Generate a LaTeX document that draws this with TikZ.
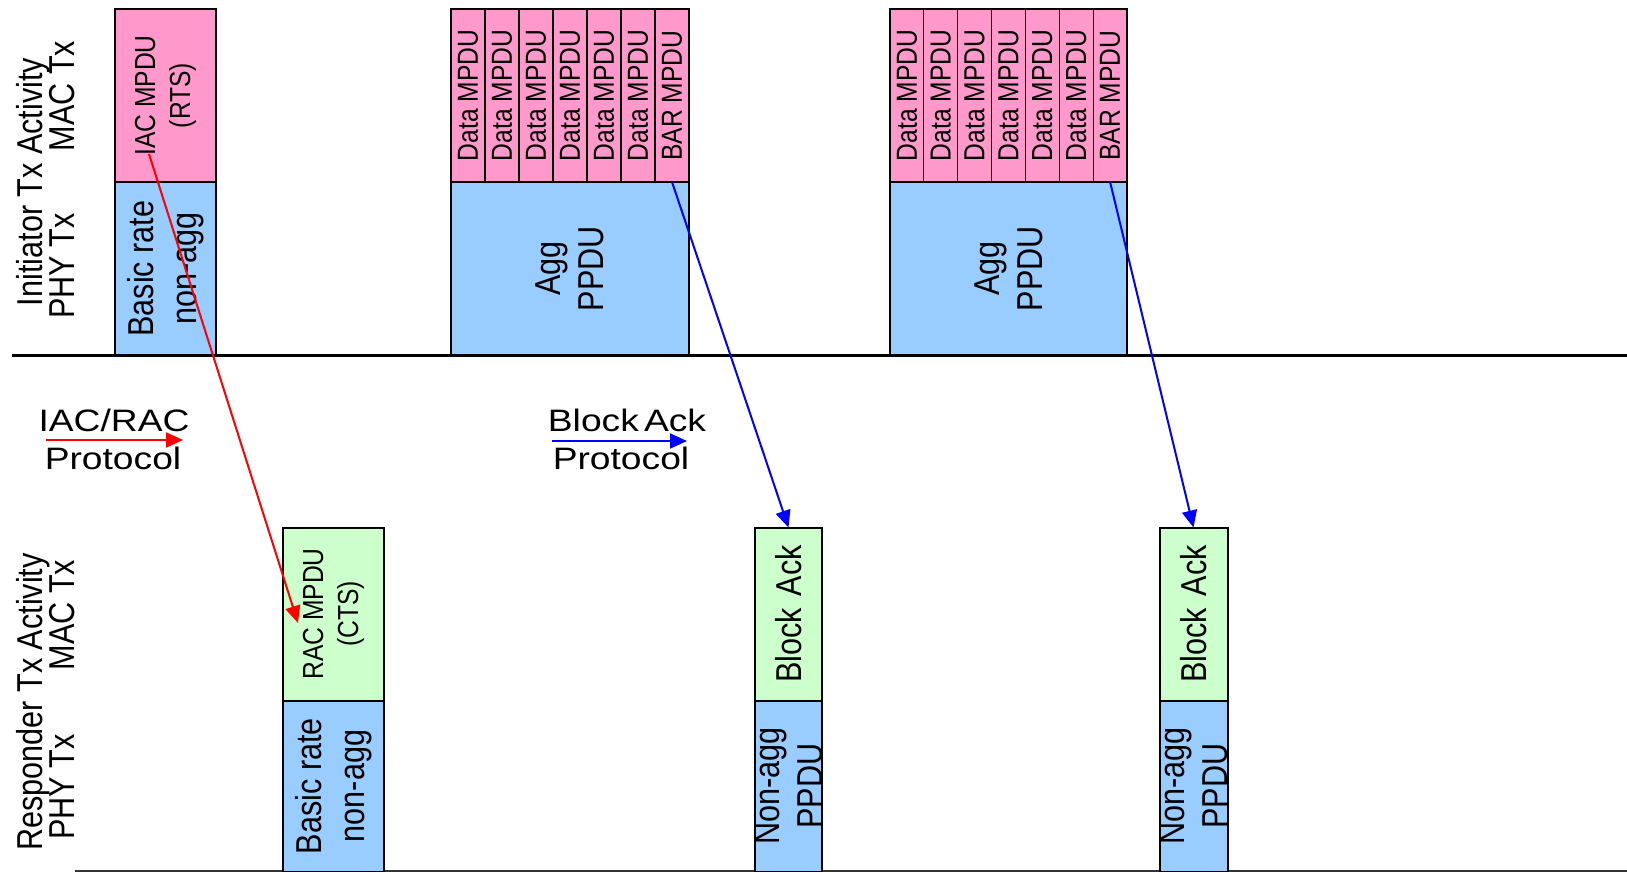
\documentclass[tikz,border=0pt]{standalone}
\usepackage{fontspec}
\setmainfont{Liberation Sans}
% narrow face for the upright (rotated) labels, wide face for the legend
\newfontfamily\vertfont[FakeStretch=0.85]{Liberation Sans}
\newfontfamily\legendfont[FakeStretch=1.2]{Liberation Sans}
\usetikzlibrary{arrows.meta}

\definecolor{macpink}{HTML}{FF99CC}
\definecolor{phyblue}{HTML}{99CCFF}
\definecolor{ackgreen}{HTML}{CCFFCC}

\begin{document}
\begin{tikzpicture}[x=1pt,y=-1pt,
  frame/.style={draw=black, line width=2.5pt, anchor=north west, inner sep=0pt, outer sep=0pt},
  rframe/.style={draw=black, line width=2pt, anchor=north west, inner sep=0pt, outer sep=0pt},
  cell/.style={draw=black, line width=1.2pt, fill=macpink, anchor=north west,
               inner sep=0pt, outer sep=0pt, minimum width=#1, minimum height=173},
  big/.style={rotate=90, align=center, inner sep=0pt, font=\vertfont\fontsize{36}{43}\selectfont},
  small/.style={rotate=90, align=center, inner sep=0pt, font=\vertfont\fontsize{29}{35}\selectfont},
  side/.style={rotate=90, anchor=base, inner sep=0pt, font=\vertfont\fontsize{36}{42}\selectfont},
  legend/.style={anchor=base, inner sep=0pt, font=\legendfont\fontsize{31}{38}\selectfont},
  redarrow/.style={draw=red, line width=2pt, -{Triangle[length=17pt,width=15pt]}},
  bluearrow/.style={draw=blue, line width=2pt, -{Triangle[length=17pt,width=15pt]}},
]
\useasboundingbox (0,0) rectangle (1627,872);
\fill[white] (0,0) rectangle (1627,872);

% time axes
\draw[line width=3pt] (12,355) -- (1627,355);
\draw[line width=2pt, black!80] (75,871) -- (1627,871);

% row labels
\node[side] (inia) at (42.5,182) {Initiator Tx Activity};
\node[side] (iniphy) at (74,266) {PHY Tx};
\node[side] (inimac) at (74,96) {MAC Tx};
\node[side] (resa) at (42.5,702) {Responder Tx Activity};
\node[side] (resphy) at (74,787) {PHY Tx};
\node[side] (resmac) at (74,615) {MAC Tx};

% initiator: IAC exchange
\node[frame, fill=macpink, minimum width=101, minimum height=173] (iacmac) at (115,9) {};
\node[frame, fill=phyblue, minimum width=101, minimum height=173] (iacphy) at (115,182) {};
\node[small] (iact) at (iacmac.center) {IAC MPDU\\(RTS)};
\node[big] (iacpt) at (iacphy.center) {Basic rate\\non-agg};

% initiator: first aggregate
\foreach \i/\t in {0/Data MPDU,1/Data MPDU,2/Data MPDU,3/Data MPDU,4/Data MPDU,5/Data MPDU,6/BAR MPDU}{
  \node[cell=34] (a\i) at ({451+34*\i},9) {};
  \node[small] (at\i) at (a\i.center) {\t};
}
\node[frame, minimum width=238, minimum height=173] (aggmac) at (451,9) {};
\node[frame, fill=phyblue, minimum width=238, minimum height=173] (aggphy) at (451,182) {};
\node[big] (aggpt) at (aggphy.center) {Agg\\PPDU};

% initiator: second aggregate
\foreach \i/\t in {0/Data MPDU,1/Data MPDU,2/Data MPDU,3/Data MPDU,4/Data MPDU,5/Data MPDU,6/BAR MPDU}{
  \node[cell=33.86] (b\i) at ({890+33.86*\i},9) {};
  \node[small] (bt\i) at (b\i.center) {\t};
}
\node[frame, minimum width=237, minimum height=173] (bggmac) at (890,9) {};
\node[frame, fill=phyblue, minimum width=237, minimum height=173] (bggphy) at (890,182) {};
\node[big] (bggpt) at (bggphy.center) {Agg\\PPDU};

% responder: RAC exchange
\node[rframe, fill=ackgreen, minimum width=101, minimum height=173] (racmac) at (283,527.5) {};
\node[rframe, fill=phyblue, minimum width=101, minimum height=171] (racphy) at (283,700.5) {};
\node[small] (ract) at (racmac.center) {RAC MPDU\\(CTS)};
\node[big] (racpt) at (racphy.center) {Basic rate\\non-agg};

% responder: block acks
\node[rframe, fill=ackgreen, minimum width=67, minimum height=173] (ba1mac) at (755,527.5) {};
\node[rframe, fill=phyblue, minimum width=67, minimum height=171] (ba1phy) at (755,700.5) {};
\node[big] (ba1t) at (ba1mac.center) {Block\,\,Ack};
\node[big] (ba1pt) at (ba1phy.center) {Non-agg\\PPDU};

\node[rframe, fill=ackgreen, minimum width=68, minimum height=173] (ba2mac) at (1159.5,527.5) {};
\node[rframe, fill=phyblue, minimum width=68, minimum height=171] (ba2phy) at (1159.5,700.5) {};
\node[big] (ba2t) at (ba2mac.center) {Block\,\,Ack};
\node[big] (ba2pt) at (ba2phy.center) {Non-agg\\PPDU};

% protocol exchanges
\coordinate (rtsfrom) at (149,154);
\coordinate (ctsto) at (298,623);
\draw[redarrow] (rtsfrom) -- (ctsto);
\draw[bluearrow] (a6.south) -- (ba1mac.north);
\draw[bluearrow] (b6.south) -- (ba2mac.north);

% legend
\node[legend] (lg1a) at (114,431) {IAC/RAC};
\node[legend] (lg1b) at (113,469) {Protocol};
\coordinate (lg1s) at (46,440);
\coordinate (lg1e) at (183,440);
\draw[redarrow] (lg1s) -- (lg1e);

\node[legend] (lg2a) at (627,431) {Block\,Ack};
\node[legend] (lg2b) at (621,469) {Protocol};
\coordinate (lg2s) at (552,441);
\coordinate (lg2e) at (687,441);
\draw[bluearrow] (lg2s) -- (lg2e);
\end{tikzpicture}
\end{document}
